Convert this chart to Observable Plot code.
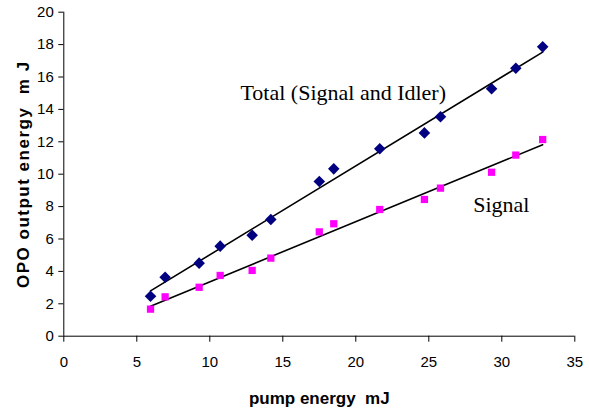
<!DOCTYPE html>
<html>
<head>
<meta charset="utf-8">
<script src="https://cdn.jsdelivr.net/npm/d3@7"></script>
<script src="https://cdn.jsdelivr.net/npm/@observablehq/plot@0.6"></script>
<style>
  html, body { margin: 0; padding: 0; background: #fff; }
  #chart { width: 589px; height: 413px; }
  g[aria-label$="tick label"] { font-size: 15px; }
  g[aria-label$="tick label"] text { font-size: 15px; }
</style>
</head>
<body>
<div id="chart"></div>
<script>
// Pump energy (mJ) for each measurement
const pump = [5.94, 6.94, 9.27, 10.71, 12.9, 14.18, 17.5, 18.49, 21.64, 24.7, 25.8, 29.3, 30.96, 32.8];
// Total (Signal and Idler) output energy (mJ)
const totalOut = [2.47, 3.64, 4.51, 5.56, 6.23, 7.2, 9.55, 10.33, 11.57, 12.55, 13.54, 15.27, 16.54, 17.86];
// Signal output energy (mJ)
const signalOut = [1.67, 2.43, 3.02, 3.75, 4.06, 4.82, 6.44, 6.94, 7.82, 8.44, 9.14, 10.12, 11.18, 12.14];
// Tick labels
const xTicks = [0, 5, 10, 15, 20, 25, 30, 35];
const yTicks = [0, 2, 4, 6, 8, 10, 12, 14, 16, 18, 20];
// Series annotation labels
const labelText = ["Total (Signal and Idler)", "Signal"];
const labelX = [12.1, 28.04];
const labelY = [15.02, 8.09];
const xTitle = "pump energy  mJ";
const yTitle = "OPO output energy  m J";

const total = pump.map((x, i) => ({x, y: totalOut[i]}));
const signal = pump.map((x, i) => ({x, y: signalOut[i]}));
const labels = labelText.map((t, i) => ({t, x: labelX[i], y: labelY[i]}));

const chart = Plot.plot({
  width: 589,
  height: 413,
  marginLeft: 63.3,
  marginRight: 14.7,
  marginTop: 11.7,
  marginBottom: 77.3,
  style: {fontFamily: "'Liberation Sans', Arial, sans-serif", background: "#fff", color: "#000", overflow: "visible"},
  x: {domain: [0, 35]},
  y: {domain: [0, 20]},
  marks: [
    Plot.axisY({ticks: yTicks, tickSize: 5, tickPadding: 5, label: null}),
    Plot.axisX({ticks: xTicks, tickSize: 6, tickPadding: 14, label: null}),
    Plot.ruleX([0], {y1: 0, y2: 20, stroke: "#000"}),
    Plot.ruleY([0], {x1: 0, x2: 35, stroke: "#000"}),
    Plot.linearRegressionY(total, {x: "x", y: "y", ci: 0, stroke: "#000", strokeWidth: 1.6}),
    Plot.linearRegressionY(signal, {x: "x", y: "y", ci: 0, stroke: "#000", strokeWidth: 1.6}),
    Plot.dot(total, {x: "x", y: "y", symbol: "diamond2", r: 5.2, fill: "#000080", stroke: "none"}),
    Plot.dot(signal, {x: "x", y: "y", symbol: "square", r: 4.1, fill: "#ff00ff", stroke: "none"}),
    Plot.text(labels, {x: "x", y: "y", text: "t", textAnchor: "start", fontFamily: "'Liberation Serif', 'Times New Roman', serif", fontSize: 22, fill: "#000"}),
    Plot.text([xTitle], {frameAnchor: "bottom", textAnchor: "middle", dy: 68, fontWeight: "bold", fontSize: 17, fill: "#000"}),
    Plot.text([yTitle], {frameAnchor: "left", textAnchor: "middle", dx: -40, rotate: -90, fontWeight: "bold", fontSize: 17, fill: "#000"})
  ]
});
document.getElementById("chart").appendChild(chart);
d3.select(chart).selectAll("g[aria-label$='tick label']").attr("font-size", 15)
  .selectAll("text").attr("font-size", 15);
d3.select(chart).selectAll("text").filter(function() { return this.textContent === yTitle; })
  .style("letter-spacing", "1.5px");
</script>
</body>
</html>
